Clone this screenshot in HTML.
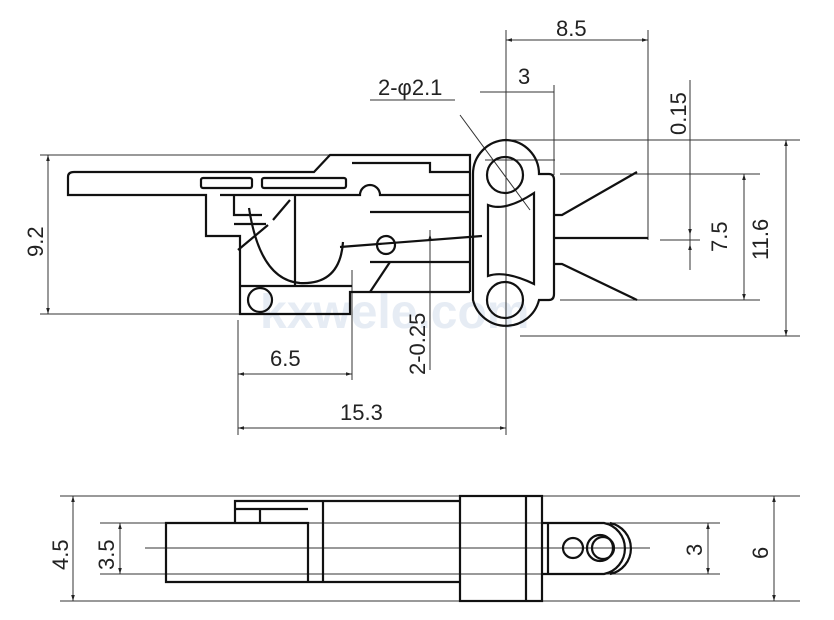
<!DOCTYPE html>
<html><head><style>body{margin:0;background:#fff}svg{display:block}text{font-family:"Liberation Sans",Arial,sans-serif;font-size:22px;fill:#222}</style></head><body>
<svg width="834" height="620" viewBox="0 0 834 620" xmlns="http://www.w3.org/2000/svg">
<defs><marker id="a" viewBox="0 0 10 10" refX="10" refY="5" markerWidth="12" markerHeight="6" orient="auto-start-reverse" markerUnits="userSpaceOnUse"><path d="M0,2 L10,5 L0,8z" fill="#222"/></marker></defs>
<text x="260" y="328" style="font-size:48px;font-weight:bold;fill:#e6ecf4">kxwele.com</text>
<g stroke="#333" stroke-width="1" fill="none">
<line x1="40" y1="155" x2="330" y2="155"/><line x1="40" y1="314" x2="240" y2="314"/>
<line x1="506" y1="30" x2="506" y2="435"/><line x1="648" y1="30" x2="648" y2="240"/>
<line x1="554" y1="85" x2="554" y2="175"/><line x1="480" y1="92" x2="554" y2="92"/>
<line x1="500" y1="140" x2="800" y2="140"/><line x1="520" y1="336" x2="800" y2="336"/>
<line x1="560" y1="174" x2="760" y2="174"/><line x1="560" y1="300" x2="760" y2="300"/>
<line x1="660" y1="240" x2="700" y2="240"/><line x1="690" y1="80" x2="690" y2="270"/>
<line x1="238" y1="320" x2="238" y2="435"/><line x1="352" y1="270" x2="352" y2="380"/>
<line x1="430" y1="230" x2="430" y2="370"/>
<line x1="460" y1="115" x2="530" y2="210"/>
<line x1="485" y1="160" x2="555" y2="160"/>
<line x1="60" y1="496" x2="800" y2="496"/><line x1="100" y1="523" x2="720" y2="523"/>
<line x1="100" y1="574" x2="720" y2="574"/><line x1="60" y1="601" x2="800" y2="601"/>
<line x1="145" y1="548" x2="650" y2="548"/>
<line x1="48" y1="155" x2="48" y2="314" marker-start="url(#a)" marker-end="url(#a)"/>
<line x1="506" y1="40" x2="648" y2="40" marker-start="url(#a)" marker-end="url(#a)"/>
<line x1="786" y1="140" x2="786" y2="336" marker-start="url(#a)" marker-end="url(#a)"/>
<line x1="744" y1="174" x2="744" y2="300" marker-start="url(#a)" marker-end="url(#a)"/>
<line x1="238" y1="374" x2="352" y2="374" marker-start="url(#a)" marker-end="url(#a)"/>
<line x1="238" y1="428" x2="506" y2="428" marker-start="url(#a)" marker-end="url(#a)"/>
<line x1="690" y1="210" x2="690" y2="235" marker-end="url(#a)"/><line x1="690" y1="265" x2="690" y2="244" marker-end="url(#a)"/>
<line x1="430" y1="250" x2="430" y2="234" marker-end="url(#a)"/>
<line x1="73" y1="496" x2="73" y2="601" marker-start="url(#a)" marker-end="url(#a)"/>
<line x1="120" y1="523" x2="120" y2="574" marker-start="url(#a)" marker-end="url(#a)"/>
<line x1="708" y1="523" x2="708" y2="574" marker-start="url(#a)" marker-end="url(#a)"/>
<line x1="774" y1="496" x2="774" y2="601" marker-start="url(#a)" marker-end="url(#a)"/>
<line x1="370" y1="100" x2="455" y2="100"/>
</g>
<g stroke="#111" stroke-width="2.2" fill="none">
<path d="M74,172 H314 L330,155 H470 V292 M74,172 q-6,0 -6,5 V195 H206 V236 H240 V314 H350 V292 H470"/>
<path d="M220,195 H360 a10,10 0 0 1 20,0 H470"/>
<path d="M352,163 H430 V172 H470"/>
<rect x="201" y="178" width="51" height="10" rx="2"/><rect x="262" y="178" width="84" height="10" rx="2"/>
<line x1="295" y1="196" x2="295" y2="286"/>
<path d="M234,196 V215 H262 M234,224 H266"/>
<path d="M249,208 Q260,280 300,283 Q340,285 343,242"/>
<line x1="238" y1="250" x2="268" y2="225"/><line x1="273" y1="220" x2="290" y2="200"/>
<line x1="240" y1="286" x2="352" y2="286"/>
<line x1="340" y1="247" x2="482" y2="236"/>
<circle cx="386" cy="245" r="9"/>
<path d="M370,212 H470 M370,262 H470"/>
<line x1="370" y1="292" x2="390" y2="262"/>
<circle cx="260" cy="300" r="12"/>
<path d="M506,140 a34,34 0 0 1 33,34 H549 q5,0 5,6 V294 q0,6 -5,6 H539 a34,34 0 0 1 -66,0 V174 a34,34 0 0 1 33,-34z"/>
<circle cx="505" cy="175" r="18"/><circle cx="505" cy="300" r="18"/>
<path d="M488,205 Q505,212 534,193 V284 Q505,270 488,276z"/>
<path d="M554,215 H562 L637,172 M554,264 H562 L637,300"/>
<line x1="554" y1="238" x2="648" y2="238"/>
<path d="M166,523 H308 V582 H166z M235,523 V509 H308 M260,509 V523 M235,509 V501 H460 M308,582 H460 M323,501 V582"/>
<rect x="460" y="496" width="82" height="105"/><line x1="526" y1="496" x2="526" y2="601"/>
<path d="M542,523 H604 a26,26 0 0 1 0,51 H542 M548,523 V574 M610,523 a26,26 0 0 1 0,51"/>
<circle cx="573" cy="548" r="10"/><circle cx="600" cy="548" r="13"/><circle cx="603" cy="548" r="11"/>
</g>
<text x="556" y="36">8.5</text><text x="518" y="84">3</text><text x="378" y="95">2-φ2.1</text>
<text transform="translate(686,135) rotate(-90)">0.15</text>
<text transform="translate(768,260) rotate(-90)">11.6</text>
<text transform="translate(727,252) rotate(-90)">7.5</text>
<text transform="translate(43,257) rotate(-90)">9.2</text>
<text transform="translate(425,375) rotate(-90)">2-0.25</text>
<text x="270" y="366">6.5</text><text x="340" y="420">15.3</text>
<text transform="translate(68,570) rotate(-90)">4.5</text>
<text transform="translate(114,570) rotate(-90)">3.5</text>
<text transform="translate(702,556) rotate(-90)">3</text>
<text transform="translate(768,559) rotate(-90)">6</text>
</svg></body></html>
